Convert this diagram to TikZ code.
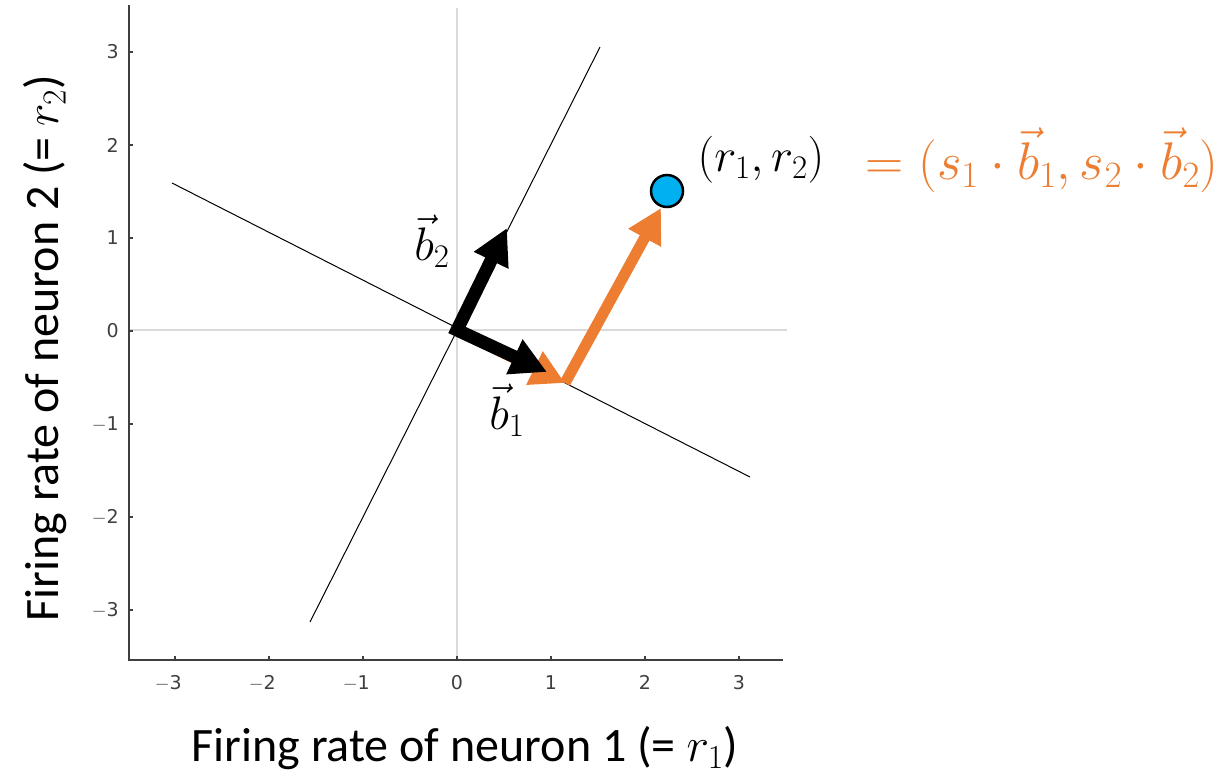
\RequirePackage{fix-cm}
\documentclass[tikz,border=0pt]{standalone}
\usepackage{fontspec}
\setmainfont{Carlito}
\newfontfamily\tickfont{DejaVu Sans}
\usetikzlibrary{arrows.meta}
\definecolor{orng}{HTML}{ED7D31}
\definecolor{dotblue}{HTML}{00B0F0}
\definecolor{gridgrey}{HTML}{D9D9D9}
\definecolor{axisgrey}{HTML}{3F3F3F}
\tikzset{
  gridline/.style={draw=gridgrey, line width=1.3pt},
  axisline/.style={draw=axisgrey, line width=2.6pt},
  thinline/.style={draw=black, line width=1pt},
  ticklab/.style={font=\tickfont\fontsize{19}{20}\selectfont, text=axisgrey, inner sep=0pt},
  axislab/.style={font=\fontsize{48}{52}\selectfont, inner sep=0pt},
  mathlab/.style={font=\fontsize{47}{50}\selectfont, inner sep=0pt},
  bigmath/.style={font=\fontsize{53}{56}\selectfont, inner sep=0pt},
  blackvec/.style={draw=black, line width=13pt, line join=miter,
    {Triangle[length=36pt,width=36pt]}-{Triangle[length=36pt,width=36pt]}},
  orangevec/.style={draw=orng, line width=11pt, -{Triangle[length=34pt,width=35pt]}},
  pointdot/.style={circle, fill=dotblue, draw=black, line width=2.5pt, minimum size=32pt, inner sep=0pt},
}
\begin{document}
\begin{tikzpicture}[x=1pt,y=-1pt]
\useasboundingbox (0,0) rectangle (1227,777);
% grid lines through origin
\coordinate (O) at (457,330);
\draw[gridline] (457,8) -- (457,660);
\draw[gridline] (129,330) -- (787,330);
% axes
\coordinate (axtop) at (129,5);
\coordinate (axcorner) at (129,660);
\coordinate (axright) at (783,660);
\draw[axisline] (axtop) -- (axcorner) -- (axright);
% ticks and tick labels
\foreach \k in {-3,...,3} {
  \draw[draw=axisgrey, line width=1.5pt] ({457+94*\k},660) -- ({457+94*\k},656);
  \draw[draw=axisgrey, line width=1.5pt] (129,{331-93*\k}) -- (133,{331-93*\k});
}
\foreach \k/\lab in {-3/$-$3,-2/$-$2,-1/$-$1} {
  \node[ticklab, anchor=north east] (xt\k) at ({457+94*\k+7},675) {\lab};
  \node[ticklab, anchor=east] (yt\k) at (119,{331-93*\k}) {\lab};
}
\foreach \k in {0,1,2,3} {
  \node[ticklab, anchor=north] (xt\k) at ({457+94*\k},675) {\k};
  \node[ticklab, anchor=east] (yt\k) at (119,{331-93*\k}) {\k};
}
% basis lines
\coordinate (la1) at (310,622);
\coordinate (la2) at (600,47);
\coordinate (lb1) at (172,183);
\coordinate (lb2) at (750,477);
\draw[thinline] (la1) -- (la2);
\draw[thinline] (lb1) -- (lb2);
% orange decomposition
\coordinate (P1) at (565,383);
\coordinate (P2) at (661,208);
\draw[orangevec] (O) -- (P1);
\draw[orangevec] (P1) -- (P2);
% black basis vectors
\coordinate (B1) at (547,372);
\coordinate (B2) at (507,228);
\draw[blackvec] (B2) -- (O) -- (B1);
% point
\node[pointdot] (pt) at (667,191) {};
% labels
\node[mathlab] (b2lab) at (432,241) {$\vec{b}_2$};
\node[mathlab] (b1lab) at (507,410) {$\vec{b}_1$};
\node[mathlab] (ptlab) at (761,160) {$(r_1,r_2)$};
\node[bigmath, text=orng] (formula) at (1042,160) {$=(s_1\cdot\vec{b}_1,s_2\cdot\vec{b}_2)$};
% axis labels
\node[axislab] (xlab) at (465,748) {Firing rate of neuron 1 (= $r_1$)};
\node[axislab, rotate=90] (ylab) at (45,348) {Firing rate of neuron 2 (= $r_2$)};
\end{tikzpicture}
\end{document}
